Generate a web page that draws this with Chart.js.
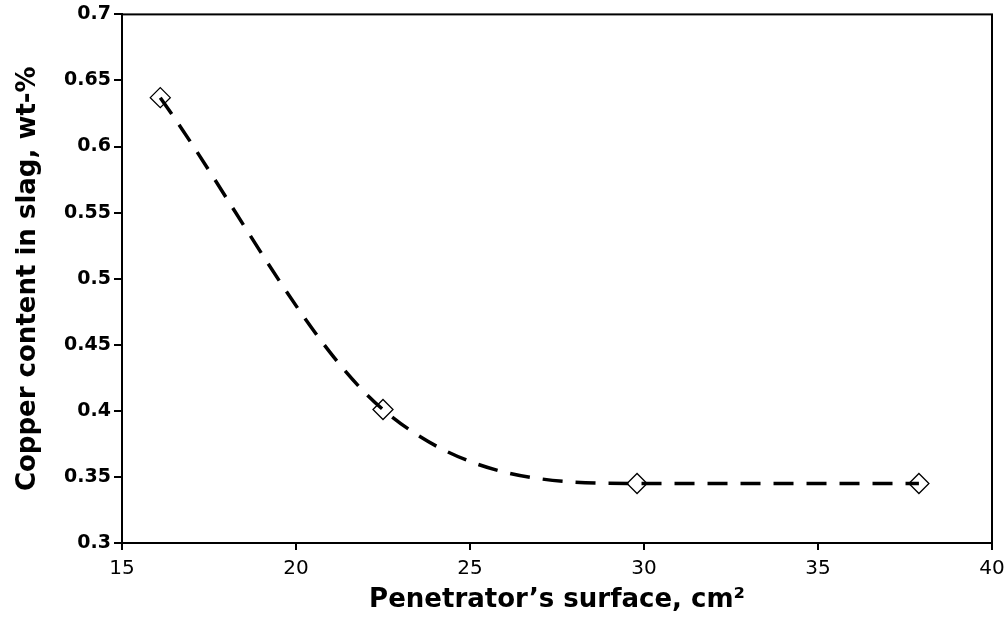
<!DOCTYPE html>
<html>
<head>
<meta charset="utf-8">
<script src="https://cdn.jsdelivr.net/npm/chart.js@4"></script>
<style>
  html, body { margin: 0; padding: 0; background: #fff; }
  #wrap { width: 1008px; height: 620px; }
</style>
</head>
<body>
<div id="wrap"><canvas id="copperChart" width="1008" height="620"></canvas></div>
<script>
// measured points (penetrator surface cm2 -> Cu in slag wt-%)
const surface = [16.1, 22.5, 29.8, 37.9];
const copper = [0.637, 0.401, 0.345, 0.345];

const xTicks = [15, 20, 25, 30, 35, 40];
const yTicks = [0.3, 0.35, 0.4, 0.45, 0.5, 0.55, 0.6, 0.65, 0.7];

// black frame round the plot area (top and right sides too)
const frame = {
  id: 'frame',
  afterDraw(chart) {
    const { ctx, chartArea: a } = chart;
    ctx.save();
    ctx.strokeStyle = '#000';
    ctx.lineWidth = 2;
    ctx.strokeRect(a.left, a.top, a.right - a.left, a.bottom - a.top);
    ctx.restore();
  }
};

const ctx = document.getElementById('copperChart');
new Chart(ctx, {
  type: 'line',
  data: {
    datasets: [{
      data: surface.map((x, i) => ({ x: x, y: copper[i] })),
      borderColor: '#000',
      borderWidth: 3.5,
      borderDash: [20, 13],
      cubicInterpolationMode: 'monotone',
      pointStyle: 'rectRot',
      pointRadius: 10,
      pointBorderWidth: 1.3,
      pointBorderColor: '#000',
      pointBackgroundColor: 'rgba(0,0,0,0)',
      fill: false
    }]
  },
  options: {
    responsive: false,
    animation: false,
    layout: { padding: { left: 0, right: 16, top: 14, bottom: 0 } },
    plugins: { legend: { display: false }, tooltip: { enabled: false } },
    scales: {
      x: {
        type: 'linear',
        min: 15,
        max: 40,
        afterBuildTicks: s => { s.ticks = xTicks.map(v => ({ value: v })); },
        afterFit: s => { s.height = 77; s.paddingLeft = 0; s.paddingRight = 0; },
        grid: { drawOnChartArea: false, drawTicks: true, tickLength: 7, color: '#000', lineWidth: 2 },
        border: { display: true, color: '#000', width: 2 },
        ticks: {
          color: '#000',
          padding: 7,
          maxRotation: 0,
          font: { family: "'DejaVu Sans'", size: 20 }
        },
        title: {
          display: true,
          text: 'Penetrator’s surface, cm²',
          color: '#000',
          padding: { top: 5 },
          font: { family: "'DejaVu Sans'", size: 26, weight: 'bold' }
        }
      },
      y: {
        min: 0.3,
        max: 0.7,
        afterBuildTicks: s => { s.ticks = yTicks.map(v => ({ value: v })); },
        afterFit: s => { s.width = 122; },
        grid: { drawOnChartArea: false, drawTicks: true, tickLength: 8, color: '#000', lineWidth: 2 },
        border: { display: true, color: '#000', width: 2 },
        ticks: {
          color: '#000',
          padding: 3,
          font: { family: "'DejaVu Sans'", size: 19, weight: 'bold' },
          callback: v => String(Math.round(v * 100) / 100)
        },
        title: {
          display: true,
          text: 'Copper content in slag, wt-%',
          color: '#000',
          padding: { top: 13 },
          font: { family: "'DejaVu Sans'", size: 26, weight: 'bold' }
        }
      }
    }
  },
  plugins: [frame]
});
</script>
</body>
</html>
